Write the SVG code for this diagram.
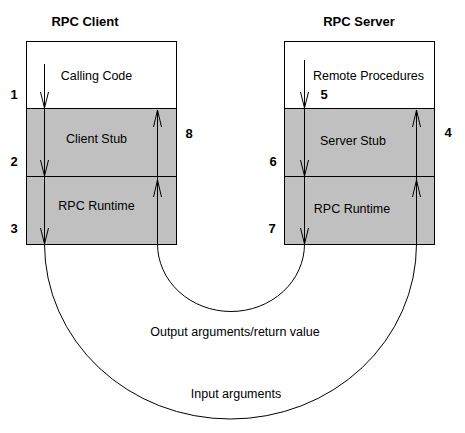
<svg xmlns="http://www.w3.org/2000/svg" width="465" height="433" viewBox="0 0 465 433">
<style>
.box{stroke:#000;stroke-width:1}
.w{fill:#fff}
.g{fill:#c0c0c0}
.t{font-family:"Liberation Sans",Arial,sans-serif;font-size:12.5px;fill:#000;text-anchor:middle}
.b{font-family:"Liberation Sans",Arial,sans-serif;font-size:13px;font-weight:bold;fill:#000;text-anchor:middle}
.ln{stroke:#000;stroke-width:1;fill:none}
</style>
<rect width="465" height="433" fill="#fff"/>
<text class="b" x="85" y="26">RPC Client</text>
<text class="b" x="359" y="26">RPC Server</text>
<g id="client">
<rect class="box w" x="26.5" y="41.5" width="150" height="67"/>
<rect class="box g" x="26.5" y="108.5" width="150" height="68"/>
<rect class="box g" x="26.5" y="176.5" width="150" height="68"/>
<text class="t" x="96.5" y="80">Calling Code</text>
<text class="t" x="96.5" y="143">Client Stub</text>
<text class="t" x="96.5" y="210">RPC Runtime</text>
</g>
<g id="server">
<rect class="box w" x="284.5" y="41.5" width="150" height="67"/>
<rect class="box g" x="284.5" y="108.5" width="150" height="68"/>
<rect class="box g" x="284.5" y="176.5" width="150" height="68"/>
<text class="t" x="368.5" y="80">Remote Procedures</text>
<text class="t" x="353" y="145">Server Stub</text>
<text class="t" x="352" y="213">RPC Runtime</text>
</g>
<g id="labels">
<text class="b" x="14" y="99">1</text>
<text class="b" x="14" y="166">2</text>
<text class="b" x="14" y="233">3</text>
<text class="b" x="189" y="137.5">8</text>
<text class="b" x="324" y="98.5">5</text>
<text class="b" x="448" y="137">4</text>
<text class="b" x="273" y="166">6</text>
<text class="b" x="272" y="233">7</text>
<text class="t" x="235" y="336">Output arguments/return value</text>
<text class="t" x="236" y="398">Input arguments</text>
</g>
<g id="connectors">
<path class="ln" d="M44.5,64 V244"/>
<path class="ln" d="M40.5,92 L44.5,108 L48.5,92 M40.5,160 L44.5,176 L48.5,160 M40.5,228 L44.5,244 L48.5,228"/>
<path class="ln" d="M157.5,244 V110"/>
<path class="ln" d="M153.5,127 L157.5,110 L161.5,127 M153.5,197 L157.5,180 L161.5,197"/>
<path class="ln" d="M304.5,60 V244"/>
<path class="ln" d="M300.5,92 L304.5,108 L308.5,92 M300.5,160 L304.5,176 L308.5,160 M300.5,228 L304.5,244 L308.5,228"/>
<path class="ln" d="M416.5,244 V110"/>
<path class="ln" d="M412.5,127 L416.5,110 L420.5,127 M412.5,197 L416.5,180 L420.5,197"/>
<path class="ln" d="M157.5,244 A73.5,67.5 0 0 0 304.5,244"/>
<path class="ln" d="M44.5,244 A186,175 0 0 0 416.5,244"/>
</g>
</svg>
